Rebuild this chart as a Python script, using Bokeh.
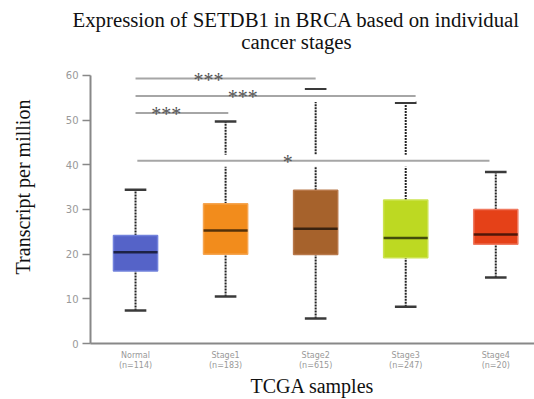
from bokeh.plotting import figure
from bokeh.models import Range1d, FixedTicker, Label, Title, ColumnDataSource
from bokeh.embed import file_html
from bokeh.resources import INLINE
from bokeh.core.properties import value

# ---- data ----
groups = ["Normal", "Stage1", "Stage2", "Stage3", "Stage4"]
counts = [114, 183, 615, 247, 20]
whisker_low = [7.4, 10.5, 5.6, 8.2, 14.8]
q1 = [16.2, 20.0, 19.9, 19.2, 22.2]
median = [20.4, 25.3, 25.7, 23.6, 24.4]
q3 = [24.2, 31.3, 34.3, 32.1, 30.0]
whisker_high = [34.4, 49.7, 56.9, 53.9, 38.4]
colors = ["#5563c8", "#f28c1c", "#a6622c", "#bdd922", "#e54118"]
edge_colors = ["#7282dc", "#f6a550", "#b8784a", "#cce350", "#f07a60"]

# significance brackets: from Normal to each stage
sig_start = [0.5, 0.5, 0.5, 0.52]
sig_end = [1.53, 2.5, 3.61, 4.43]
sig_y = [51.6, 59.3, 55.4, 40.9]
sig_text = ["***", "***", "***", "*"]
sig_text_x = [0.84, 1.31, 1.69, 2.19]

y_ticks = [0, 10, 20, 30, 40, 50, 60]
title_lines = ["Expression of SETDB1 in BRCA based on individual", "cancer stages"]

BOX_W = 0.49
CAP_W = 0.24

x = [i + 0.5 for i in range(len(groups))]
tick_labels = {xi: f"{g}\n(n={n})" for xi, g, n in zip(x, groups, counts)}

# frame extends above the data area so the second title line can sit inside it
p = figure(frame_width=444, frame_height=313, output_backend="svg", toolbar_location=None,
           x_range=Range1d(0, 4.93), y_range=Range1d(0, 70.06),
           min_border_left=90, min_border_right=0, min_border_top=30,
           min_border_bottom=0)
p.outline_line_color = None
p.xgrid.visible = False
p.ygrid.visible = False
p.background_fill_color = "white"

# title line 1 (above the frame), line 2 (inside the frame, screen px)
p.add_layout(Title(text=title_lines[0], align="left", offset=-18, standoff=0,
                   text_font="Liberation Serif", text_font_size="20.8px",
                   text_font_style="normal", text_color="#111111"), "above")
p.add_layout(Label(x=206, y=302, x_units="screen", y_units="screen", text=title_lines[1],
                   text_font="Liberation Serif", text_font_size="20.8px",
                   text_color="#111111", text_align="center", text_baseline="middle"))

src = ColumnDataSource(dict(
    x=x, lo=whisker_low, q1=q1, med=median, q3=q3, hi=whisker_high, c=colors, ec=edge_colors,
    capl=[xi - CAP_W / 2 for xi in x], capr=[xi + CAP_W / 2 for xi in x],
    boxl=[xi - BOX_W / 2 for xi in x], boxr=[xi + BOX_W / 2 for xi in x]))

# whiskers
p.segment(x0="x", y0="q3", x1="x", y1="hi", source=src, line_color="#222222",
          line_width=2, line_dash="2 1")
p.segment(x0="x", y0="lo", x1="x", y1="q1", source=src, line_color="#222222",
          line_width=2, line_dash="2 1")
# caps
p.segment(x0="capl", y0="hi", x1="capr", y1="hi", source=src, line_color="#3a3a3a", line_width=2.5)
p.segment(x0="capl", y0="lo", x1="capr", y1="lo", source=src, line_color="#3a3a3a", line_width=2.5)
# boxes
p.vbar(x="x", bottom="q1", top="q3", width=BOX_W, source=src, fill_color="c",
       line_color="ec", line_width=1.5)
# medians
p.segment(x0="boxl", y0="med", x1="boxr", y1="med", source=src, line_color="black",
          line_alpha=0.65, line_width=2.5)

# significance lines
sig_src = ColumnDataSource(dict(x0=sig_start, x1=sig_end, y=sig_y, t=sig_text, tx=sig_text_x))
p.segment(x0="x0", y0="y", x1="x1", y1="y", source=sig_src, line_color="white", line_width=12)
p.segment(x0="x0", y0="y", x1="x1", y1="y", source=sig_src, line_color="#a6a6a6", line_width=2)
p.text(x="tx", y="y", text="t", source=sig_src, text_font=value("Liberation Serif"),
       text_font_size="20px", text_color="#555555", text_align="center",
       text_baseline="alphabetic", y_offset=1)

# axes
p.yaxis.ticker = FixedTicker(ticks=y_ticks)
p.yaxis.bounds = (y_ticks[0], y_ticks[-1])
p.yaxis.axis_line_color = "#888888"
p.yaxis.axis_line_width = 2
p.yaxis.major_tick_line_color = "#888888"
p.yaxis.major_tick_line_width = 1.5
p.yaxis.major_tick_out = 8
p.yaxis.major_tick_in = 0
p.yaxis.minor_tick_line_color = None
p.yaxis.major_label_text_font = "DejaVu Sans"
p.yaxis.major_label_text_font_size = "10px"
p.yaxis.major_label_text_color = "#999999"
p.yaxis.major_label_standoff = 4
p.yaxis.axis_label = "Transcript per million"
p.yaxis.axis_label_text_font = "Liberation Serif"
p.yaxis.axis_label_text_font_size = "20px"
p.yaxis.axis_label_text_font_style = "normal"
p.yaxis.axis_label_text_color = "#111111"
p.yaxis.axis_label_standoff = 29

p.xaxis.ticker = FixedTicker(ticks=x)
p.xaxis.major_label_overrides = tick_labels
p.xaxis.axis_line_color = "#888888"
p.xaxis.axis_line_width = 2
p.xaxis.major_tick_line_color = None
p.xaxis.major_tick_out = 0
p.xaxis.major_tick_in = 0
p.xaxis.minor_tick_line_color = None
p.xaxis.major_label_text_font = "DejaVu Sans"
p.xaxis.major_label_text_font_size = "8px"
p.xaxis.major_label_text_color = "#999999"
p.xaxis.major_label_standoff = 7
p.xaxis.axis_label = "TCGA samples"
p.xaxis.axis_label_text_font = "Liberation Serif"
p.xaxis.axis_label_text_font_size = "20px"
p.xaxis.axis_label_text_font_style = "normal"
p.xaxis.axis_label_text_color = "#111111"
p.xaxis.axis_label_standoff = 2

open("out.html", "w").write(file_html(p, INLINE))
